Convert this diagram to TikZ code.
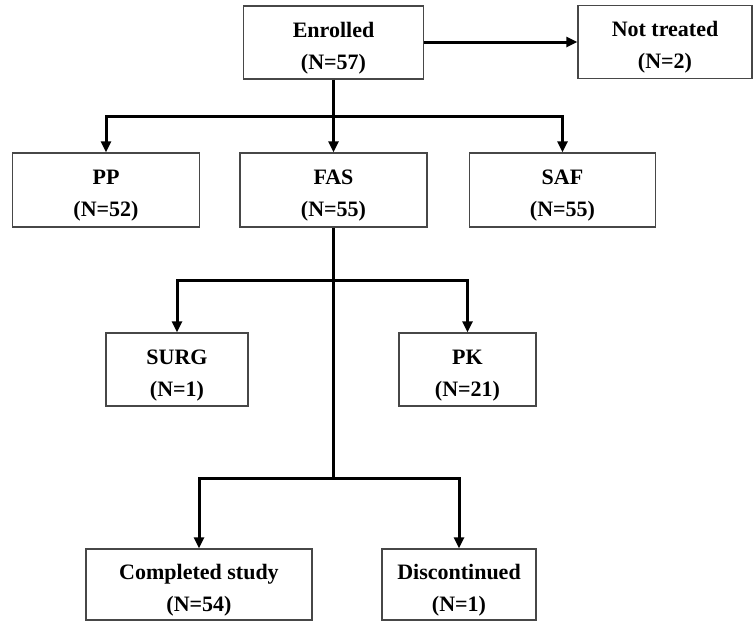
\documentclass[tikz,border=0pt]{standalone}
\usepackage{fontspec}
\setmainfont{Liberation Serif}
\usetikzlibrary{arrows.meta}
\newcommand\boxtopgap{\rule{0pt}{26pt}}
\begin{document}
\begin{tikzpicture}[x=1pt,y=-1pt,
  box/.style={draw=black!72,line width=1.3pt,inner sep=0pt,align=center,
    font=\fontsize{22}{32}\selectfont\bfseries},
  conn/.style={line width=3pt,black},
  arr/.style={conn,-{Triangle[length=11pt,width=10pt]}}]
\useasboundingbox (0,0) rectangle (754,622);
\node[box,minimum width=180pt,minimum height=73pt] (enr) at (333.5,42.5) {\boxtopgap Enrolled\\(N=57)};
\node[box,minimum width=174pt,minimum height=73pt] (nt) at (665,42) {\boxtopgap Not treated\\(N=2)};
\node[box,minimum width=187pt,minimum height=74pt] (pp) at (106,190) {\boxtopgap PP\\(N=52)};
\node[box,minimum width=187pt,minimum height=74pt] (fas) at (333.5,190) {\boxtopgap FAS\\(N=55)};
\node[box,minimum width=186pt,minimum height=74pt] (saf) at (562.5,190) {\boxtopgap SAF\\(N=55)};
\node[box,minimum width=142pt,minimum height=73pt] (surg) at (177,369.5) {\boxtopgap SURG\\(N=1)};
\node[box,minimum width=137pt,minimum height=73pt] (pk) at (467.5,369.5) {\boxtopgap PK\\(N=21)};
\node[box,minimum width=226pt,minimum height=71pt] (comp) at (199,584.5) {\boxtopgap Completed study\\(N=54)};
\node[box,minimum width=154pt,minimum height=71pt] (disc) at (459,584.5) {\boxtopgap Discontinued\\(N=1)};
\coordinate (j1) at (333.5,116);
\coordinate (j2) at (333.5,280);
\coordinate (j3) at (333.5,478);
\draw[arr] (enr.east |- nt.west) -- (nt.west);
\draw[conn] (enr.south) -- (j1);
\draw[arr] (j1) -| (pp.north);
\draw[arr] (j1) -| (saf.north);
\draw[arr] (j1) -- (fas.north);
\draw[conn] (fas.south) -- (j2);
\draw[arr] (j2) -| (surg.north);
\draw[arr] (j2) -| (pk.north);
\draw[conn] (j2) -- (j3);
\draw[arr] (j3) -| (comp.north);
\draw[arr] (j3) -| (disc.north);
\end{tikzpicture}
\end{document}
